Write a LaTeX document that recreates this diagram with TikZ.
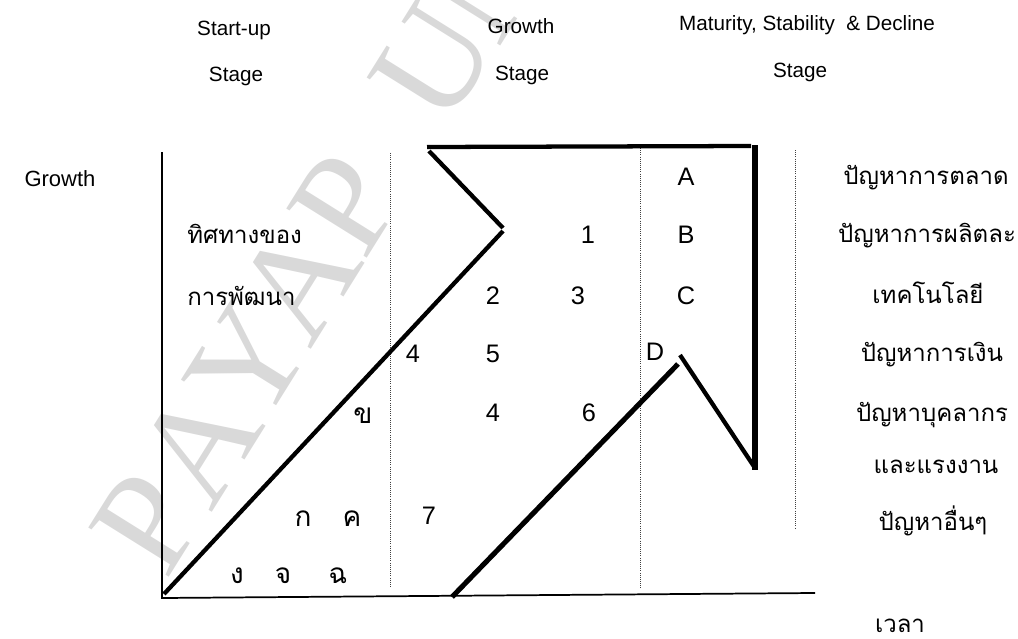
\documentclass[tikz,border=0pt]{standalone}
\usepackage{fontspec}
\setmainfont{Liberation Sans}
\newfontfamily\thaifont[Script=Thai]{Loma}
\newfontfamily\wmfont{Liberation Serif}
\begin{document}
\begin{tikzpicture}[x=0.75pt,y=-0.75pt,
  lbl/.style={font=\fontsize{15.5}{18}\selectfont, inner sep=0pt, anchor=base},
  numlbl/.style={font=\fontsize{19}{22}\selectfont, inner sep=0pt, anchor=base},
  thai/.style={font=\thaifont\fontsize{18}{22}\selectfont, inner sep=0pt, anchor=base},
  thaisml/.style={font=\thaifont\fontsize{21}{24}\selectfont, inner sep=0pt, anchor=base},
  heavy/.style={line width=3.2pt},
  axisline/.style={line width=1.3pt},
  guide/.style={densely dotted, line width=0.6pt, black!75},
  wm/.style={font=\wmfont\fontsize{108}{112}\selectfont, text=black!15, inner sep=0pt, anchor=center, rotate=58}
]
\useasboundingbox (0,0) rectangle (1018,639);
\begin{scope}
\clip (0,0) rectangle (1018,639);
\node[wm] (wm1) at (148,523) {P};
\node[wm] (wm2) at (199,444) {A};
\node[wm] (wm3) at (248,362) {Y};
\node[wm] (wm4) at (298,281) {A};
\node[wm] (wm5) at (346,204) {P};
\node[wm] (wm6) at (434,62) {U};
\node[wm] (wm7) at (486,-20) {N};
\end{scope}

% stage headings
\node[lbl] (h1a) at (234,36) {Start-up};
\node[lbl] (h1b) at (236,81) {Stage};
\node[lbl] (h2a) at (521,33) {Growth};
\node[lbl] (h2b) at (522,80) {Stage};
\node[lbl] (h3a) at (807,31) {Maturity, Stability \ \& Decline};
\node[lbl] (h3b) at (800,77) {Stage};
\node[lbl, font=\fontsize{16.5}{20}\selectfont] (ylab) at (60,186) {Growth};

% axes
\coordinate (O) at (162,598);
\coordinate (ytop) at (162,152);
\coordinate (xend) at (815,593);
\draw[axisline] (ytop) -- (O) -- (xend);

% dotted guides
\coordinate (g1a) at (390,153); \coordinate (g1b) at (390,587);
\coordinate (g2a) at (640,148); \coordinate (g2b) at (640,588);
\coordinate (g3a) at (795,150); \coordinate (g3b) at (795,528);
\draw[guide] (g1a) -- (g1b);
\draw[guide] (g2a) -- (g2b);
\draw[guide] (g3a) -- (g3b);

% heavy growth path
\coordinate (d1s) at (164,594); \coordinate (d1e) at (503,231);
\coordinate (z1) at (429,151); \coordinate (z2) at (503,228);
\coordinate (t1) at (427,147); \coordinate (t2) at (751,146);
\coordinate (v1) at (755,145); \coordinate (v2) at (755,470);
\coordinate (w1) at (755,468); \coordinate (w2) at (680,355);
\coordinate (l1) at (452,597); \coordinate (l2) at (678,364);
\draw[heavy] (d1s) -- (d1e);
\draw[heavy] (z1) -- (z2);
\draw[heavy] (t1) -- (t2);
\draw[line width=4.2pt] (v1) -- (v2);
\draw[heavy] (w1) -- (w2);
\draw[line width=3.8pt] (l1) -- (l2);

% left Thai label
\node[thai, anchor=base west] (dir1) at (187,243) {ทิศทางของ};
\node[thai, anchor=base west] (dir2) at (187,305) {การพัฒนา};

% numbers and letters
\node[numlbl] (n1) at (588,243) {1};
\node[numlbl] (n2) at (493,304) {2};
\node[numlbl] (n3) at (578,304) {3};
\node[numlbl] (n4a) at (413,362) {4};
\node[numlbl] (n5) at (493,362) {5};
\node[numlbl] (n4b) at (493,421) {4};
\node[numlbl] (n6) at (589,421) {6};
\node[numlbl] (n7) at (429,524) {7};
\node[numlbl] (lA) at (686,185) {A};
\node[numlbl] (lB) at (686,243) {B};
\node[numlbl] (lC) at (686,304) {C};
\node[numlbl] (lD) at (655,360) {D};

% small Thai letters
\node[thaisml] (kk) at (363,423) {ข};
\node[thaisml] (ka) at (303,526) {ก};
\node[thaisml] (kh) at (352,526) {ค};
\node[thaisml] (ng) at (237,583) {ง};
\node[thaisml] (cj) at (283,583) {จ};
\node[thaisml] (ch) at (338,583) {ฉ};

% right Thai column
\node[thai] (p1) at (926,184) {ปัญหาการตลาด};
\node[thai] (p2) at (927,242) {ปัญหาการผลิตละ};
\node[thai] (p3) at (928,303) {เทคโนโลยี};
\node[thai] (p4) at (932,361) {ปัญหาการเงิน};
\node[thai] (p5) at (932,421) {ปัญหาบุคลากร};
\node[thai] (p6) at (936,473) {และแรงงาน};
\node[thai] (p7) at (933,530) {ปัญหาอื่นๆ};

\node[thai] (time) at (900,632) {เวลา};
\end{tikzpicture}
\end{document}
